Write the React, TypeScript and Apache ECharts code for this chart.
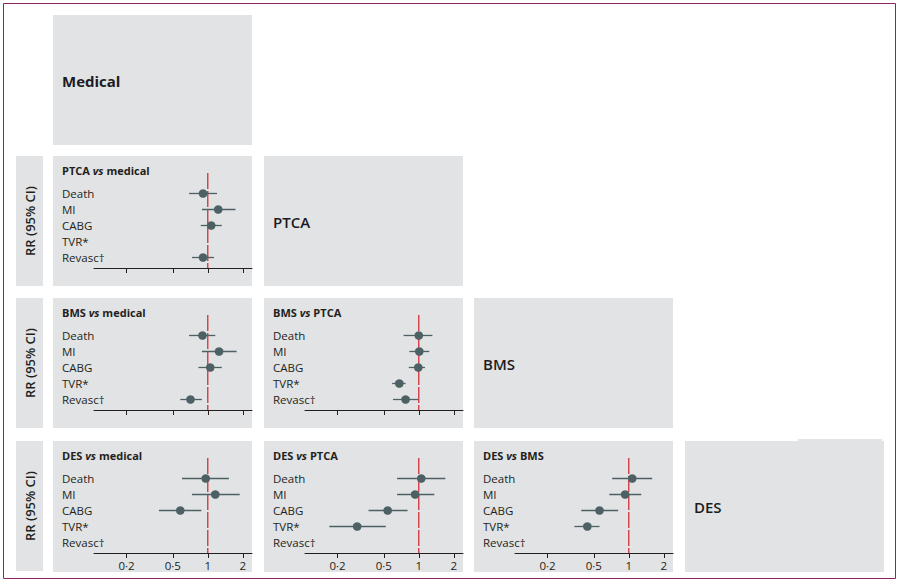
import React, { useEffect, useRef } from 'react';
import * as echarts from 'echarts';

// ---------- data ----------
const outcomes = ['Death', 'MI', 'CABG', 'TVR*', 'Revasc†'];
const xTicks = [0.2, 0.5, 1, 2];
const treatments = ['Medical', 'PTCA', 'BMS', 'DES'];
const nullEffect = 1;

const ptcaVsMedicalRR = [0.91, 1.23, 1.07, null, 0.91];
const ptcaVsMedicalLow = [0.69, 0.89, 0.87, null, 0.73];
const ptcaVsMedicalHigh = [1.2, 1.73, 1.32, null, 1.13];

const bmsVsMedicalRR = [0.9, 1.25, 1.05, null, 0.71];
const bmsVsMedicalLow = [0.69, 0.89, 0.83, null, 0.58];
const bmsVsMedicalHigh = [1.16, 1.77, 1.32, null, 0.89];

const bmsVsPtcaRR = [1.0, 1.01, 0.99, 0.68, 0.77];
const bmsVsPtcaLow = [0.74, 0.83, 0.82, 0.59, 0.6];
const bmsVsPtcaHigh = [1.31, 1.23, 1.13, 0.77, 0.99];

const desVsMedicalRR = [0.96, 1.16, 0.58, null, null];
const desVsMedicalLow = [0.6, 0.73, 0.38, null, null];
const desVsMedicalHigh = [1.52, 1.88, 0.88, null, null];

const desVsPtcaRR = [1.05, 0.93, 0.54, 0.295, null];
const desVsPtcaLow = [0.65, 0.65, 0.37, 0.17, null];
const desVsPtcaHigh = [1.69, 1.36, 0.8, 0.52, null];

const desVsBmsRR = [1.07, 0.93, 0.56, 0.44, null];
const desVsBmsLow = [0.72, 0.68, 0.39, 0.34, null];
const desVsBmsHigh = [1.59, 1.28, 0.81, 0.56, null];

const comparisons = [
  { a: 'PTCA', b: 'medical', row: 1, col: 0, rr: ptcaVsMedicalRR, lo: ptcaVsMedicalLow, hi: ptcaVsMedicalHigh },
  { a: 'BMS', b: 'medical', row: 2, col: 0, rr: bmsVsMedicalRR, lo: bmsVsMedicalLow, hi: bmsVsMedicalHigh },
  { a: 'BMS', b: 'PTCA', row: 2, col: 1, rr: bmsVsPtcaRR, lo: bmsVsPtcaLow, hi: bmsVsPtcaHigh },
  { a: 'DES', b: 'medical', row: 3, col: 0, rr: desVsMedicalRR, lo: desVsMedicalLow, hi: desVsMedicalHigh },
  { a: 'DES', b: 'PTCA', row: 3, col: 1, rr: desVsPtcaRR, lo: desVsPtcaLow, hi: desVsPtcaHigh },
  { a: 'DES', b: 'BMS', row: 3, col: 2, rr: desVsBmsRR, lo: desVsBmsLow, hi: desVsBmsHigh },
];

// ---------- layout / style ----------
const ROW_TOPS = [15, 156, 298, 441];
const COL_LEFTS = [53, 264, 474, 685];
const PW = 199;
const PH = 130;
const Y_MIN = -1.28;
const Y_MAX = 4.656;
const GRAY = '#e2e3e4';
const INK = '#231f20';
const DOT = '#4d6165';
const RED = '#d21f2b';
const FRAME = '#8a2462';
const FONT = '"Open Sans", "Noto Sans", sans-serif';

const fmtTick = (v: number) => String(v).replace('.', '·');

function buildOption() {
  const grid: any[] = [];
  const xAxis: any[] = [];
  const yAxis: any[] = [];
  const series: any[] = [];
  const graphic: any[] = [];

  // outer frame
  graphic.push({
    type: 'rect',
    z: -2,
    shape: { x: 3.5, y: 3.5, width: 892, height: 575 },
    style: { fill: '#fff', stroke: FRAME, lineWidth: 1 },
  });

  // treatment boxes on the diagonal
  treatments.forEach((t, i) => {
    const x = COL_LEFTS[i];
    const y = ROW_TOPS[i];
    graphic.push({
      type: 'rect',
      z: -1,
      shape: { x, y, width: PW, height: PH + (i === 3 ? 1 : 0) },
      style: { fill: GRAY },
    });
    graphic.push({
      type: 'text',
      z: 10,
      x: x + 9,
      y: y + PH / 2 + 1,
      style: {
        text: t,
        fill: '#1c1c22',
        font: `${i === 0 ? 'bold' : '600'} 15px ${FONT}`,
        textAlign: 'left',
        textVerticalAlign: 'middle',
      },
    });
  });
  // small notch on the DES box
  graphic.push({
    type: 'rect',
    z: -1,
    shape: { x: 798, y: ROW_TOPS[3] - 2, width: 84, height: 3 },
    style: { fill: GRAY },
  });

  // RR (95% CI) label boxes
  [1, 2, 3].forEach((r) => {
    const y = ROW_TOPS[r];
    graphic.push({
      type: 'rect',
      z: -1,
      shape: { x: 16, y, width: 27, height: PH },
      style: { fill: GRAY },
    });
    graphic.push({
      type: 'text',
      z: 10,
      x: 29.5,
      y: y + PH / 2,
      rotation: Math.PI / 2,
      style: {
        text: 'RR (95% CI)',
        fill: INK,
        font: `600 13px ${FONT}`,
        textAlign: 'center',
        textVerticalAlign: 'middle',
      },
    });
  });

  comparisons.forEach((c, i) => {
    const px = COL_LEFTS[c.col];
    const py = ROW_TOPS[c.row];
    const bottomRow = c.row === 3;

    graphic.push({
      type: 'rect',
      z: -1,
      shape: { x: px, y: py, width: PW, height: PH + (bottomRow ? 1 : 0) },
      style: { fill: GRAY },
    });
    graphic.push({
      type: 'text',
      z: 10,
      x: px + 9,
      y: py + 14,
      style: {
        text: `{b|${c.a} }{i|vs}{b| ${c.b}}`,
        textVerticalAlign: 'middle',
        rich: {
          b: { font: `bold 11px ${FONT}`, fill: INK },
          i: { font: `italic bold 11px ${FONT}`, fill: INK },
        },
      },
    });

    grid.push({ left: px + 41, top: py + 17, width: PW - 41, height: 95 });

    xAxis.push({
      type: 'log',
      logBase: 10,
      gridIndex: i,
      min: 0.105,
      max: 2.4,
      axisLine: { onZero: false, lineStyle: { color: INK, width: 1 } },
      axisTick: { customValues: xTicks, length: 5, lineStyle: { color: INK, width: 1 } },
      axisLabel: {
        show: bottomRow,
        customValues: xTicks,
        formatter: (v: number) => fmtTick(v),
        margin: 6,
        color: INK,
        fontSize: 11.5,
        fontFamily: FONT,
      },
      splitLine: { show: false },
    });

    yAxis.push({
      type: 'value',
      gridIndex: i,
      inverse: true,
      min: Y_MIN,
      max: Y_MAX,
      axisLine: { show: false },
      axisTick: { show: false },
      splitLine: { show: false },
      axisLabel: {
        customValues: [0, 1, 2, 3, 4],
        formatter: (v: number) => outcomes[Math.round(v)] ?? '',
        align: 'left',
        margin: 32,
        color: INK,
        fontSize: 11.5,
        fontFamily: FONT,
      },
    });

    // red reference line at RR = 1
    series.push({
      type: 'line',
      xAxisIndex: i,
      yAxisIndex: i,
      data: [
        [nullEffect, Y_MIN],
        [nullEffect, Y_MAX],
      ],
      symbol: 'none',
      silent: true,
      lineStyle: { color: RED, width: 1.2, type: [16, 2] },
      z: 3,
    });

    const data: any[] = [];
    outcomes.forEach((_, k) => {
      if (c.rr[k] != null) data.push([k, c.rr[k], c.lo[k], c.hi[k]]);
    });

    series.push({
      type: 'custom',
      xAxisIndex: i,
      yAxisIndex: i,
      clip: false,
      encode: { x: [1, 2, 3], y: 0 },
      data,
      renderItem: (params: any, api: any) => {
        const y = api.value(0);
        const p = api.coord([api.value(1), y]);
        const a = api.coord([api.value(2), y]);
        const b = api.coord([api.value(3), y]);
        return {
          type: 'group',
          children: [
            {
              type: 'line',
              shape: { x1: a[0], y1: a[1], x2: b[0], y2: b[1] },
              style: { stroke: DOT, lineWidth: 1.3 },
            },
            {
              type: 'circle',
              shape: { cx: p[0], cy: p[1], r: 4.3 },
              style: { fill: DOT },
            },
          ],
        };
      },
      z: 5,
    });
  });

  return {
    animation: false,
    backgroundColor: '#fff',
    textStyle: { fontFamily: FONT },
    grid,
    xAxis,
    yAxis,
    series,
    graphic: { elements: graphic },
  };
}

export default function App() {
  const ref = useRef<HTMLDivElement>(null);
  useEffect(() => {
    if (!ref.current) return;
    const chart = echarts.init(ref.current, undefined, { renderer: 'svg' });
    chart.setOption(buildOption() as any);
    return () => chart.dispose();
  }, []);
  return (
    <div
      ref={ref}
      style={{ position: 'fixed', left: 0, top: 0, width: 903, height: 584, background: '#fff' }}
    />
  );
}
